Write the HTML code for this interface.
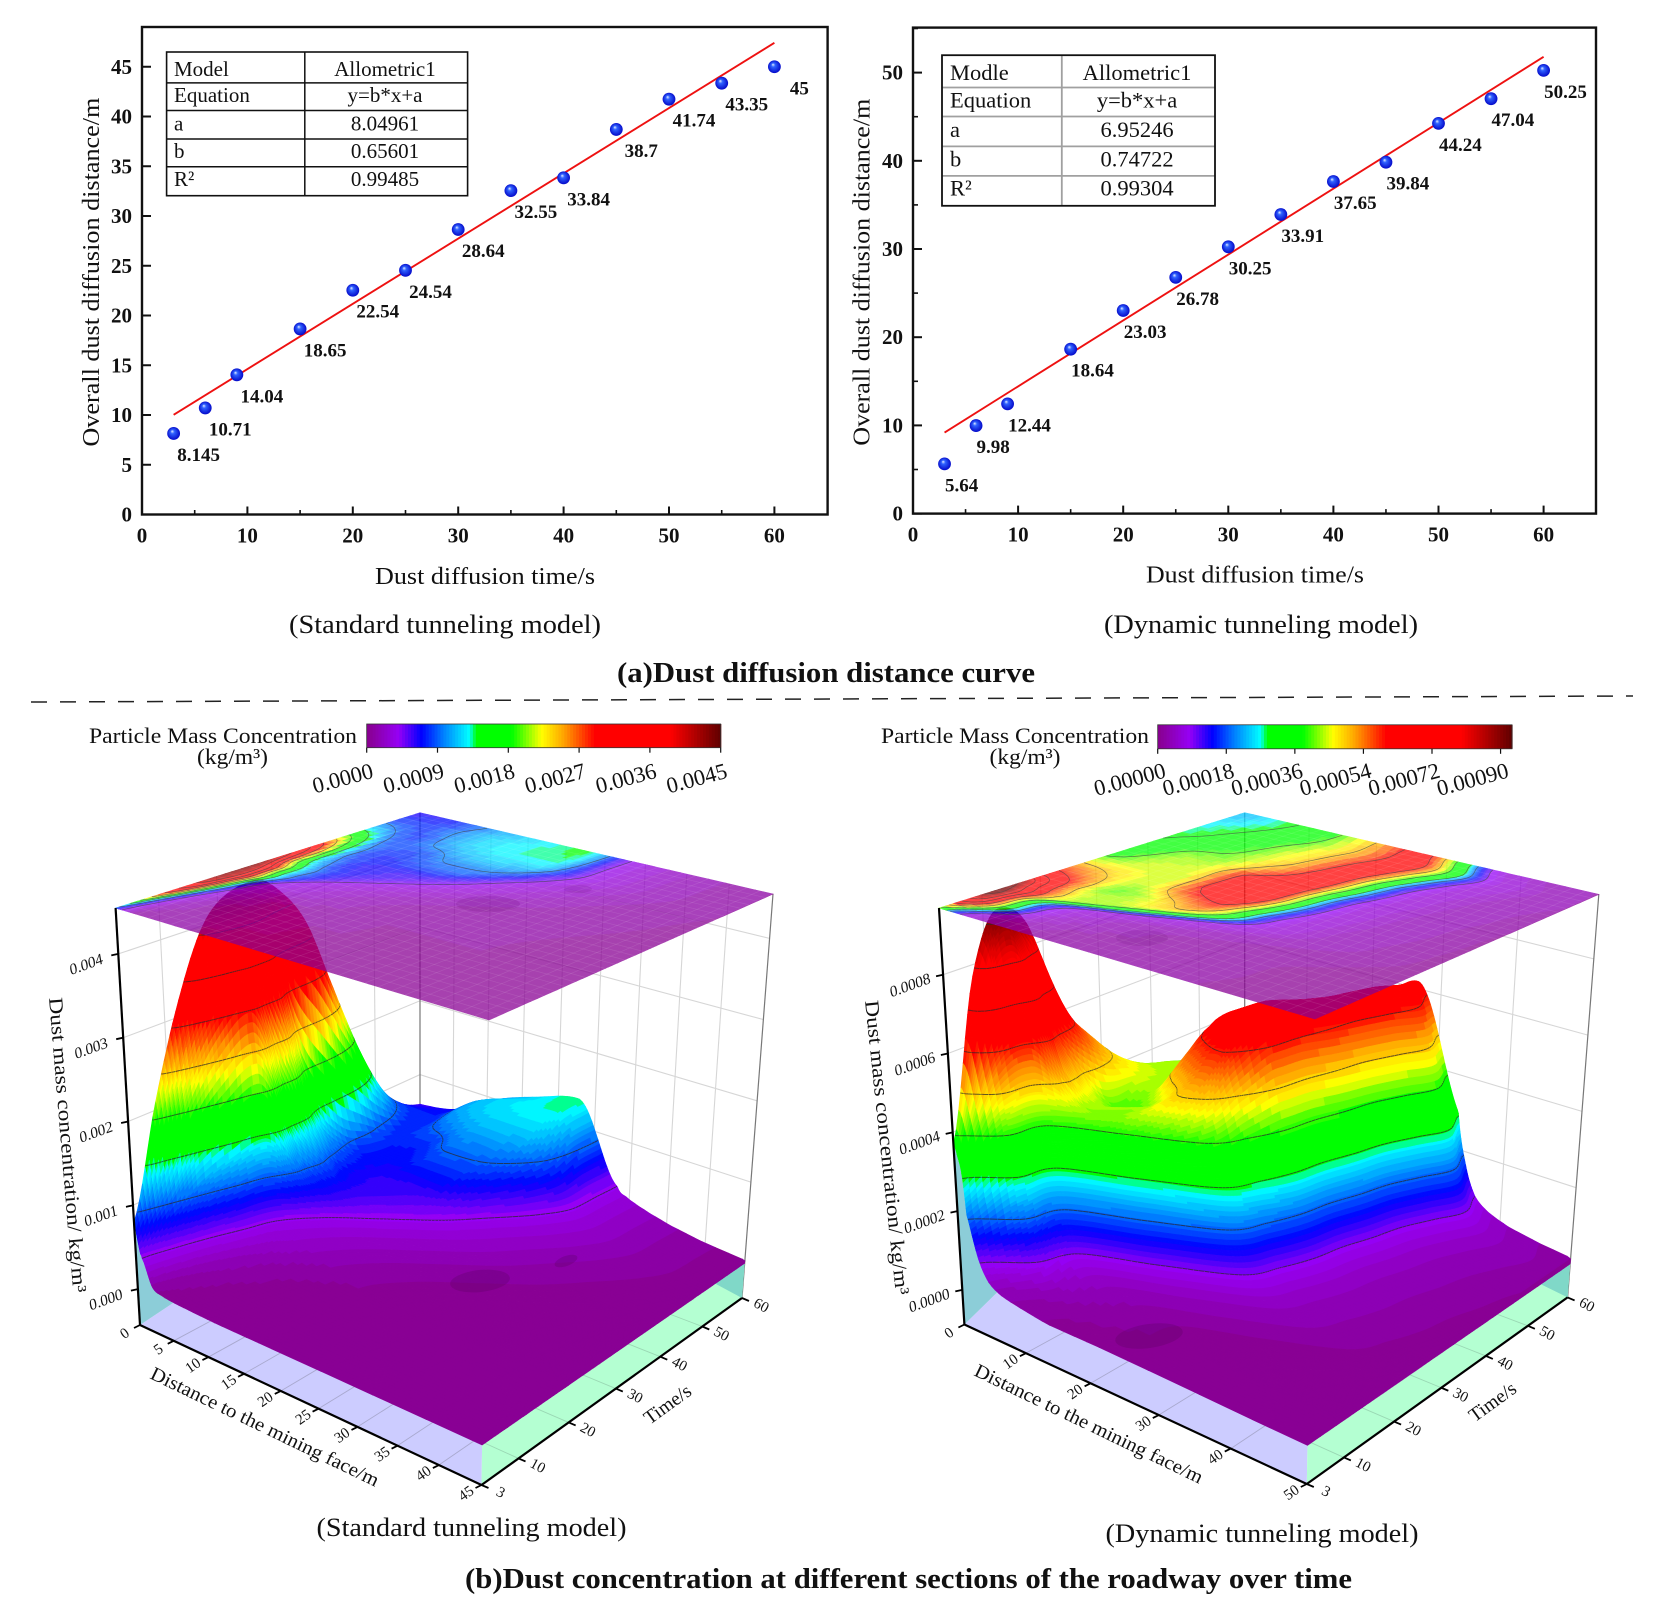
<!DOCTYPE html>
<html lang="en">
<head>
<meta charset="utf-8">
<title>Dust diffusion distance and concentration</title>
<style>
html,body{margin:0;padding:0;background:#fff;}
svg{display:block;}
text{font-family:"Liberation Serif","Noto Serif CJK SC",serif;fill:#111;}
.tb{font-size:21px;}
</style>
</head>
<body>
<svg id="fig" xmlns="http://www.w3.org/2000/svg" width="1656" height="1623" viewBox="0 0 1656 1623">
<defs>
<radialGradient id="ball" cx="50%" cy="50%" r="55%" fx="38%" fy="32%">
<stop offset="0" stop-color="#e8efff"/><stop offset=".28" stop-color="#2f62ff"/><stop offset="1" stop-color="#0000c4"/>
</radialGradient>
</defs>
<rect width="1656" height="1623" fill="#fff"/>

<g id="plotA"></g>
<g id="plotB"></g>

<g>
<rect x="166.6" y="52" width="301" height="143.7" fill="none" stroke="#111" stroke-width="1.6"/>
<path d="M304.8 52V195.7M166.6 82.9H467.6M166.6 110.5H467.6M166.6 139H467.6M166.6 166.7H467.6" stroke="#111" stroke-width="1.5" fill="none"/>
<text class="tb" x="174" y="76">Model</text><text class="tb" x="385" y="76" text-anchor="middle">Allometric1</text>
<text class="tb" x="174" y="102">Equation</text><text class="tb" x="385" y="102" text-anchor="middle">y=b*x+a</text>
<text class="tb" x="174" y="130.500">a</text><text class="tb" x="385" y="130.500" text-anchor="middle">8.04961</text>
<text class="tb" x="174" y="158.200">b</text><text class="tb" x="385" y="158.200" text-anchor="middle">0.65601</text>
<text class="tb" x="174" y="186">R²</text><text class="tb" x="385" y="186" text-anchor="middle">0.99485</text>
</g>
<g>
<path d="M1061.800 55.2V205.8M942 87.5H1215M942 116.5H1215M942 146.4H1215M942 175.9H1215" stroke="#a0a0a0" stroke-width="1.8" fill="none"/>
<rect x="942" y="55.2" width="273" height="150.6" fill="none" stroke="#111" stroke-width="1.8"/>
<text class="tb" style="font-size:22.5px" x="950" y="80">Modle</text><text class="tb" style="font-size:22.5px" x="1137" y="80" text-anchor="middle">Allometric1</text>
<text class="tb" style="font-size:22.5px" x="950" y="107.500">Equation</text><text class="tb" style="font-size:22.5px" x="1137" y="107.500" text-anchor="middle">y=b*x+a</text>
<text class="tb" style="font-size:22.5px" x="950" y="137">a</text><text class="tb" style="font-size:22.5px" x="1137" y="137" text-anchor="middle">6.95246</text>
<text class="tb" style="font-size:22.5px" x="950" y="166.500">b</text><text class="tb" style="font-size:22.5px" x="1137" y="166.500" text-anchor="middle">0.74722</text>
<text class="tb" style="font-size:22.5px" x="950" y="195.500">R²</text><text class="tb" style="font-size:22.5px" x="1137" y="195.500" text-anchor="middle">0.99304</text>
</g>

<text x="375" y="584" font-size="24" textLength="220" lengthAdjust="spacingAndGlyphs">Dust diffusion time/s</text>
<text x="1146" y="582.500" font-size="24" textLength="218" lengthAdjust="spacingAndGlyphs">Dust diffusion time/s</text>
<text transform="translate(99,446.600) rotate(-90)" font-size="24" textLength="349" lengthAdjust="spacingAndGlyphs">Overall dust diffusion distance/m</text>
<text transform="translate(869.500,445.700) rotate(-90)" font-size="24" textLength="347" lengthAdjust="spacingAndGlyphs">Overall dust diffusion distance/m</text>
<text x="289" y="633" font-size="26" textLength="312" lengthAdjust="spacingAndGlyphs">(Standard tunneling model)</text>
<text x="1104" y="633" font-size="26" textLength="314" lengthAdjust="spacingAndGlyphs">(Dynamic tunneling model)</text>
<text x="617" y="682" font-size="28" font-weight="bold" textLength="418" lengthAdjust="spacingAndGlyphs">(a)Dust diffusion distance curve</text>
<line x1="31" y1="702" x2="1633" y2="696" stroke="#222" stroke-width="1.5" stroke-dasharray="16 13"/>

<text x="89" y="743" font-size="22" textLength="268" lengthAdjust="spacingAndGlyphs">Particle Mass Concentration</text>
<text x="197" y="764" font-size="22" textLength="71" lengthAdjust="spacingAndGlyphs">(kg/m³)</text>
<text x="881" y="743" font-size="22" textLength="268" lengthAdjust="spacingAndGlyphs">Particle Mass Concentration</text>
<text x="989.500" y="764" font-size="22" textLength="71" lengthAdjust="spacingAndGlyphs">(kg/m³)</text>

<g id="surfA"></g>
<g id="surfB"></g>

<g fill="#5a0060" fill-opacity=".28">
<ellipse cx="480" cy="1281" rx="30" ry="11" transform="rotate(-6 480 1281)"/>
<ellipse cx="566" cy="1261" rx="12" ry="5" transform="rotate(-20 566 1261)"/>
<ellipse cx="488" cy="904" rx="32" ry="8" fill-opacity=".14"/>
<ellipse cx="578" cy="889" rx="14" ry="4" fill-opacity=".12"/>
<ellipse cx="1149" cy="1336" rx="34" ry="12" transform="rotate(-8 1149 1336)"/>
<ellipse cx="1142" cy="938" rx="26" ry="8" fill-opacity=".12"/>
</g>

<text transform="translate(49,998) rotate(85.300)" font-size="20" textLength="296" lengthAdjust="spacingAndGlyphs">Dust mass concentration/  kg/m³</text>
<text transform="translate(865,1001) rotate(84)" font-size="20" textLength="296" lengthAdjust="spacingAndGlyphs">Dust mass concentration/  kg/m³</text>
<text transform="translate(149,1378) rotate(25.700)" font-size="19.500" textLength="251" lengthAdjust="spacingAndGlyphs">Distance to the mining face/m</text>
<text transform="translate(973,1375) rotate(25.700)" font-size="19.500" textLength="251" lengthAdjust="spacingAndGlyphs">Distance to the mining face/m</text>
<text transform="translate(668,1405) rotate(-36)" font-size="19.500" text-anchor="middle" dominant-baseline="central">Time/s</text>
<text transform="translate(1493,1402.500) rotate(-36)" font-size="19.500" text-anchor="middle" dominant-baseline="central">Time/s</text>
<text x="316.500" y="1536" font-size="26" textLength="310" lengthAdjust="spacingAndGlyphs">(Standard tunneling model)</text>
<text x="1105.500" y="1542" font-size="26" textLength="313" lengthAdjust="spacingAndGlyphs">(Dynamic tunneling model)</text>
<text x="465" y="1588" font-size="28" font-weight="bold" textLength="887" lengthAdjust="spacingAndGlyphs">(b)Dust concentration at different sections of the roadway over time</text>
</svg>

<script>
/* ---------- scatter data ---------- */
const diffusionTimes = [3, 6, 9, 15, 20, 25, 30, 35, 40, 45, 50, 55, 60];
const standardDistances = [8.145, 10.71, 14.04, 18.65, 22.54, 24.54, 28.64, 32.55, 33.84, 38.7, 41.74, 43.35, 45];
const dynamicDistances = [5.64, 9.98, 12.44, 18.64, 23.03, 26.78, 30.25, 33.91, 37.65, 39.84, 44.24, 47.04, 50.25];
const standardFit = [8.04961, 0.65601];
const dynamicFit = [6.95246, 0.74722];
const scatterXTicks = [0, 10, 20, 30, 40, 50, 60];
const standardYTicks = [0, 5, 10, 15, 20, 25, 30, 35, 40, 45];
const dynamicYTicks = [0, 10, 20, 30, 40, 50];

/* ---------- surface data ----------
   One row per time step from 3 s to 60 s.
   front   = diffusion-front position (fraction of the distance axis) at that time.
   profile = concentration (1e-4 kg/m3) at 0, .2, .4, .6, .8, 1 of the way to the front,
             then at .03, .06, .1, .16, .25, .4 of the axis beyond the front. */
const standardFront = [.02, .04, .065, .095, .125, .2, .31, .42, .5, .574, .62, .625, .63];
const standardProfile = [
[8,7.2,6.2,5.2,4.5,4,1,.5,.3,.2,.1,.1],
[21,18,13,9,6,4,1.5,.9,.5,.3,.2,.1],
[32,29,22,14,7.5,4,2,1.3,.8,.5,.3,.1],
[40,37,28,17,8.5,4,2.4,1.8,1.2,.7,.4,.2],
[43,40,31,19,9,4,3,2.5,2,1.4,.8,.3],
[43.5,35,19,10.5,7,4,3,2.5,2,1.4,.8,.3],
[41,19,9.8,6.8,5.4,4,3,2.5,2,1.4,.8,.3],
[36,12.5,7,6,5.5,4,3,2.5,2,1.4,.8,.3],
[27,10,7,8,8,4,3,2.5,2,1.4,.8,.3],
[18,8,8,10,9.5,4,3,2.5,2,1.4,.8,.3],
[11,7.5,10.5,12,12,4,3,2.5,2,1.4,.8,.3],
[7.5,7.5,11,12.5,13.2,4,3,2.5,2,1.4,.8,.3],
[6,7,10,12,13.5,4,3,2.5,2,1.4,.8,.3]
];
const dynamicFront = [.03, .11, .135, .32, .49, .535, .565, .58, .605, .625, .66, .695, .665];
const dynamicProfile = [
[3.7,3.6,3.4,3.2,2.8,2,1,.5,.3,.2,.1,.1],
[7.7,7.3,6.3,5.2,4,3,1.4,.7,.4,.25,.15,.1],
[9.2,8.6,7,5.5,4,3,1.6,.9,.6,.4,.25,.1],
[8.6,6.5,5,4.2,4.2,3,1.6,.9,.6,.4,.25,.1],
[6.3,5.4,4,4.4,5,3,1.6,.9,.6,.4,.25,.1],
[5.2,4.8,4.3,5.5,6,3,1.6,.9,.6,.4,.25,.1],
[4,4.4,4.3,6.2,6.7,3,1.6,.9,.6,.4,.25,.1],
[3.4,4.2,4.4,6.2,6.7,3,1.6,.9,.6,.4,.25,.1],
[3,3.9,4.2,5.4,6.6,3,1.6,.9,.6,.4,.25,.1],
[2.8,3.3,4.1,5,6.5,3,1.6,.9,.6,.4,.25,.1],
[2.6,3.1,4,5,6.5,3,1.6,.9,.6,.4,.25,.1],
[2.4,2.9,3.8,5,6.4,3,1.6,.9,.6,.4,.25,.1],
[2.2,2.7,3.6,4.9,6.2,3,1.6,.9,.6,.4,.25,.1]
];
const beyondFrontOffsets = [0, .03, .06, .1, .16, .25, .4];
const standardContours = [4, 9, 14, 19, 24, 29, 34, 39, 44];
const dynamicContours = [.9, 1.9, 2.9, 3.9, 4.9, 5.9, 6.9, 7.9, 8.9];
const standardZTicks = ['0.000', '0.001', '0.002', '0.003', '0.004'];
const dynamicZTicks = ['0.0000', '0.0002', '0.0004', '0.0006', '0.0008'];
const standardDistanceTicks = [0, 5, 10, 15, 20, 25, 30, 35, 40, 45];
const dynamicDistanceTicks = [0, 10, 20, 30, 40, 50];
const surfaceTimeTicks = [3, 10, 20, 30, 40, 50, 60];
const standardColorbarTicks = ['0.0000', '0.0009', '0.0018', '0.0027', '0.0036', '0.0045'];
const dynamicColorbarTicks = ['0.00000', '0.00018', '0.00036', '0.00054', '0.00072', '0.00090'];

const NS = 'http://www.w3.org/2000/svg';
function mk(parent, tag, attrs, txt) {
  const e = document.createElementNS(NS, tag);
  for (const k in attrs) e.setAttribute(k, attrs[k]);
  if (txt !== undefined) e.textContent = txt;
  parent.appendChild(e);
  return e;
}

/* ---------- scatter charts ---------- */
function drawScatter(root, cfg) {
  const sx = x => cfg.x0 + (x - 0) * cfg.kx;
  const sy = y => cfg.y0 - y * cfg.ky;
  const frame = mk(root, 'rect', {x: cfg.x0, y: cfg.top, width: cfg.right - cfg.x0, height: cfg.y0 - cfg.top, fill: 'none', stroke: '#111', 'stroke-width': 2.4});
  
  
  scatterXTicks.forEach(t => {
    const tick = mk(root, 'line', {x1: sx(t), x2: sx(t), y1: cfg.y0, y2: cfg.y0 - 8, stroke: '#111', 'stroke-width': 2});
    
    
    if (t < 60) {
      const minor = mk(root, 'line', {x1: sx(t + 5), x2: sx(t + 5), y1: cfg.y0, y2: cfg.y0 - 4.5, stroke: '#111', 'stroke-width': 1.6});
      
      
    }
    const lab = mk(root, 'text', {x: sx(t), y: cfg.y0 + 28, 'text-anchor': 'middle', 'font-size': 21, 'font-weight': 'bold'}, String(t));
    
    
  });
  cfg.yTicks.forEach(t => {
    const tick = mk(root, 'line', {x1: cfg.x0, x2: cfg.x0 + 9, y1: sy(t), y2: sy(t), stroke: '#111', 'stroke-width': 2});
    
    
    if (cfg.yMinor) {
      const mid = t + cfg.yMinor;
      const minor = mk(root, 'line', {x1: cfg.x0, x2: cfg.x0 + 5, y1: sy(mid), y2: sy(mid), stroke: '#111', 'stroke-width': 1.6});
      
      
    }
    const lab = mk(root, 'text', {x: cfg.x0 - 10, y: sy(t) + 7, 'text-anchor': 'end', 'font-size': 21, 'font-weight': 'bold'}, String(t));
    
    
  });
  const n = diffusionTimes.length - 1;
  const fitLine = mk(root, 'line', {
    x1: sx(diffusionTimes[0]), y1: sy(cfg.fit[0] + cfg.fit[1] * diffusionTimes[0]),
    x2: sx(diffusionTimes[n]), y2: sy(cfg.fit[0] + cfg.fit[1] * diffusionTimes[n]),
    stroke: '#ee1111', 'stroke-width': 1.9});
  
  
  diffusionTimes.forEach((t, i) => {
    const v = cfg.values[i];
    const dot = mk(root, 'circle', {cx: sx(t), cy: sy(v), r: 6.4, fill: 'url(#ball)'});
    
    
    const lab = mk(root, 'text', {x: sx(t) + cfg.labelDx, y: sy(v) + 27.5, 'text-anchor': cfg.labelAnchor, 'font-size': 19, 'font-weight': 'bold'}, String(v));
    
    
  });
}
drawScatter(document.getElementById('plotA'), {
  x0: 142, right: 827.6, kx: 10.54, y0: 514.5, top: 27, ky: 9.95,
  yTicks: standardYTicks, yMinor: 0, fit: standardFit, values: standardDistances, labelDx: 25, labelAnchor: 'middle'
});
drawScatter(document.getElementById('plotB'), {
  x0: 913, right: 1596, kx: 10.51, y0: 513.6, top: 27.6, ky: 8.82,
  yTicks: dynamicYTicks, yMinor: 5, fit: dynamicFit, values: dynamicDistances, labelDx: .5, labelAnchor: 'start'
});

/* ---------- colour map ---------- */
const cmapStops = [[0,136,0,140],[.09,150,0,245],[.155,0,0,255],[.217,0,128,255],[.29,0,255,255],[.31,0,255,0],[.41,0,255,0],[.494,255,255,0],[.555,255,165,0],[.645,255,0,0],[.857,255,0,0],[1,96,0,0]];
function cmap(t, levels) {
  t = Math.max(0, Math.min(1, t));
  if (levels) t = (Math.floor(t * levels) + .5) / levels;
  for (let i = 1; i < cmapStops.length; i++) {
    const b = cmapStops[i], a = cmapStops[i - 1];
    if (t <= b[0]) {
      const f = (t - a[0]) / (b[0] - a[0]);
      return 'rgb(' + Math.round(a[1] + (b[1] - a[1]) * f) + ',' + Math.round(a[2] + (b[2] - a[2]) * f) + ',' + Math.round(a[3] + (b[3] - a[3]) * f) + ')';
    }
  }
  return 'rgb(96,0,0)';
}

/* ---------- projection helpers ---------- */
function quadMap(q) {
  const [p0, p1, p2, p3] = q;
  const dx1 = p1[0] - p2[0], dx2 = p3[0] - p2[0], sx = p0[0] - p1[0] + p2[0] - p3[0];
  const dy1 = p1[1] - p2[1], dy2 = p3[1] - p2[1], sy = p0[1] - p1[1] + p2[1] - p3[1];
  const den = dx1 * dy2 - dx2 * dy1;
  const g = (sx * dy2 - dx2 * sy) / den, h = (dx1 * sy - sx * dy1) / den;
  const a = p1[0] - p0[0] + g * p1[0], b = p3[0] - p0[0] + h * p3[0], c = p0[0];
  const d = p1[1] - p0[1] + g * p1[1], e = p3[1] - p0[1] + h * p3[1], f = p0[1];
  return (u, v) => {
    const w = g * u + h * v + 1;
    return [(a * u + b * v + c) / w, (d * u + e * v + f) / w];
  };
}
/* shape-preserving cubic through the read values: no overshoot between them */
function hermite(p0, p1, p2, p3, t) {
  const d1 = p1 - p0, d2 = p2 - p1, d3 = p3 - p2;
  let m1 = (p2 - p0) / 2, m2 = (p3 - p1) / 2;
  if (d1 === 0) m1 = d2 * .5;
  else if (d1 * d2 <= 0) m1 = 0;
  else if (Math.abs(m1) > 3 * Math.min(Math.abs(d1), Math.abs(d2))) m1 = Math.sign(m1) * 3 * Math.min(Math.abs(d1), Math.abs(d2));
  if (d3 === 0) m2 = d2 * .5;
  else if (d2 * d3 <= 0) m2 = 0;
  else if (Math.abs(m2) > 3 * Math.min(Math.abs(d2), Math.abs(d3))) m2 = Math.sign(m2) * 3 * Math.min(Math.abs(d2), Math.abs(d3));
  const t2 = t * t, t3 = t2 * t;
  return (2 * t3 - 3 * t2 + 1) * p1 + (t3 - 2 * t2 + t) * m1 + (-2 * t3 + 3 * t2) * p2 + (t3 - t2) * m2;
}
function fmt(p) { return p[0].toFixed(1) + ',' + p[1].toFixed(1); }

/* Field sampled in coordinates that follow the diffusion front, so the front stays smooth. */
function makeField(front, profile) {
  const R = profile.length;
  const rows = profile.map(r => r.concat([0]));
  const C = rows[0].length;
  const at = (r, c) => rows[Math.max(0, Math.min(R - 1, r))][Math.max(0, Math.min(C - 1, c))];
  const F = v => {
    const fr = Math.min(R - 1.0001, v * (R - 1)), r = Math.floor(fr), t = fr - r;
    const g = k => front[Math.max(0, Math.min(R - 1, k))];
    return Math.max(.006, Math.min(.99, hermite(g(r - 1), g(r), g(r + 1), g(r + 2), t)));
  };
  const uFromIdx = (idx, v) => {
    const f = F(v);
    if (idx <= 5) return f * idx / 5;
    if (idx <= 11) {
      const k = Math.min(5, Math.floor(idx - 5));
      const a = beyondFrontOffsets[k], b = beyondFrontOffsets[k + 1];
      return Math.min(1, f + a + (b - a) * (idx - 5 - k));
    }
    const s = Math.min(1, f + beyondFrontOffsets[6]);
    return s + (1 - s) * (idx - 11);
  };
  const idxFromU = (u, v) => {
    const f = F(v);
    if (u <= f) return 5 * u / f;
    const d = u - f;
    for (let k = 0; k < 6; k++) {
      if (d <= beyondFrontOffsets[k + 1]) return 5 + k + (d - beyondFrontOffsets[k]) / (beyondFrontOffsets[k + 1] - beyondFrontOffsets[k]);
    }
    return 11 + (d - beyondFrontOffsets[6]) / Math.max(.001, 1 - f - beyondFrontOffsets[6]);
  };
  const zIdx = (idx, v) => {
    const fc = Math.min(C - 1.0001, idx), fr = Math.min(R - 1.0001, v * (R - 1));
    const c = Math.floor(fc), r = Math.floor(fr), tc = fc - c, tr = fr - r;
    const vals = [];
    for (let k = -1; k <= 2; k++) vals.push(hermite(at(r + k, c - 1), at(r + k, c), at(r + k, c + 1), at(r + k, c + 2), tc));
    return Math.max(0, hermite(vals[0], vals[1], vals[2], vals[3], tr));
  };
  return {uFromIdx, zIdx, zUV: (u, v) => zIdx(idxFromU(u, v), v)};
}

/* ---------- 3D surface ---------- */
function drawSurface(root, cfg) {
  const floorMap = quadMap(cfg.floor), topMap = quadMap(cfg.top);
  const wOf = z => cfg.w0 + cfg.wk * z;
  const P = (u, v, w) => {
    const a = floorMap(u, v), b = topMap(u, v);
    return [a[0] + (b[0] - a[0]) * w, a[1] + (b[1] - a[1]) * w];
  };
  const uOf = d => d / cfg.distMax;
  const vOf = t => (t - 3) / 57;
  const field = makeField(cfg.front, cfg.profile);
  const zS = field.zUV;

  /* back-wall grid */
  const grid = mk(root, 'g', {fill: 'none', stroke: '#d6d6d6', 'stroke-width': 1.1});
  
  
  cfg.zTicks.forEach(s => {
    const w = wOf(parseFloat(s) * 1e4);
    const l = mk(grid, 'polyline', {points: fmt(P(0, 0, w)) + ' ' + fmt(P(0, 1, w)) + ' ' + fmt(P(1, 1, w))});
    
    
  });
  surfaceTimeTicks.slice(1, -1).forEach(t => {
    const a = P(0, vOf(t), 0), b = P(0, vOf(t), 1);
    const l = mk(grid, 'line', {x1: a[0], y1: a[1], x2: b[0], y2: b[1]});
    
    
  });
  cfg.distTicks.slice(1, -1).forEach(d => {
    const a = P(uOf(d), 1, 0), b = P(uOf(d), 1, 1);
    const l = mk(grid, 'line', {x1: a[0], y1: a[1], x2: b[0], y2: b[1]});
    
    
  });
  const backEdge = mk(root, 'line', {x1: P(0, 1, 0)[0], y1: P(0, 1, 0)[1], x2: P(0, 1, 1)[0], y2: P(0, 1, 1)[1], stroke: '#777', 'stroke-width': 1.2});
  
  
  const rightEdge = mk(root, 'line', {x1: P(1, 1, 0)[0], y1: P(1, 1, 0)[1], x2: P(1, 1, 1)[0], y2: P(1, 1, 1)[1], stroke: '#777', 'stroke-width': 1.2});
  
  

  /* side walls */
  const w0 = wOf(0);
  let lav = fmt(P(0, 0, 0)) + ' ' + fmt(P(1, 0, 0));
  for (let i = 120; i >= 14; i--) lav += ' ' + fmt(P(i / 120, 0, wOf(zS(i / 120, 0))));
  const lavender = mk(root, 'polygon', {points: lav, fill: '#ccccff'});
  
  
  let gr = fmt(P(1, 0, 0)) + ' ' + fmt(P(1, 1, 0));
  for (let i = 60; i >= 0; i--) gr += ' ' + fmt(P(1, i / 60, wOf(zS(1, i / 60))));
  const green = mk(root, 'polygon', {points: gr, fill: '#b4ffd2'});
  
  
  let te = fmt(P(0, 0, 0));
  for (let i = 0; i <= 14; i++) te += ' ' + fmt(P(i / 120, 0, wOf(zS(i / 120, 0))));
  const teal = mk(root, 'polygon', {points: te, fill: '#8ccdd8'});
  
  
  const teal2 = mk(root, 'polygon', {points: fmt(P(1, 1, 0)) + ' ' + fmt(P(1, 1, w0)) + ' ' + fmt(P(1, .87, w0)), fill: '#80d8c8'});
  
  
  cfg.distTicks.slice(1, -1).forEach(d => {
    const a = P(uOf(d), 0, 0), b = P(uOf(d), .17, 0);
    const l = mk(root, 'line', {x1: a[0], y1: a[1], x2: b[0], y2: b[1], stroke: '#a9a9cf', 'stroke-width': .9});
    
    
  });
  surfaceTimeTicks.slice(1, -1).forEach(t => {
    const a = P(1, vOf(t), 0), b = P(.91, vOf(t), 0);
    const l = mk(root, 'line', {x1: a[0], y1: a[1], x2: b[0], y2: b[1], stroke: '#9ad8b4', 'stroke-width': .9});
    
    
  });

  /* mesh that follows the front; finer where the surface is steepest or the front moves fastest */
  const idxList = [];
  for (let k = 0; k < 35; k++) idxList.push(k / 10);
  for (let k = 0; k < 85; k++) idxList.push(3.5 + k * .04);
  for (let k = 0; k < 16; k++) idxList.push(7 + k / 4);
  for (let k = 0; k <= 4; k++) idxList.push(11 + k / 4);
  const vList = [];
  for (let v = 0; v < cfg.fineFrom; v += 1 / 96) vList.push(v);
  for (let v = cfg.fineFrom; v < cfg.fineTo; v += 1 / 192) vList.push(v);
  for (let v = cfg.fineTo; v < 1 - 1e-6; v += 1 / 96) vList.push(v);
  vList.push(1);
  const nu = idxList.length - 1, nv = vList.length - 1;
  const Z = [], U = [];
  for (let j = 0; j <= nv; j++) {
    const v = vList[j];
    Z.push([]);
    U.push([]);
    for (let i = 0; i <= nu; i++) {
      Z[j].push(field.zIdx(idxList[i], v));
      U[j].push(field.uFromIdx(idxList[i], v));
    }
  }
  const crossings = (i, j, L) => {
    const cs = [[i, j], [i + 1, j], [i + 1, j + 1], [i, j + 1]];
    const pts = [];
    for (let k = 0; k < 4; k++) {
      const A = cs[k], B = cs[(k + 1) % 4];
      const za = Z[A[1]][A[0]], zb = Z[B[1]][B[0]];
      if ((za < L) !== (zb < L)) {
        const f = (L - za) / (zb - za);
        const ua = U[A[1]][A[0]], ub = U[B[1]][B[0]];
        pts.push([ua + (ub - ua) * f, vList[A[1]] + (vList[B[1]] - vList[A[1]]) * f]);
      }
    }
    return pts;
  };

  /* surface, far to near */
  const surf = mk(root, 'g', {});
  
  
  for (let j = nv - 1; j >= 0; j--) {
    const v0 = vList[j], v1 = vList[j + 1];
    for (let i = 0; i < nu; i++) {
      const a = Z[j][i], b = Z[j][i + 1], c = Z[j + 1][i + 1], d = Z[j + 1][i];
      const col = cmap(((a + b + c + d) / 4) / cfg.max, 72);
      const cell = mk(surf, 'polygon', {
        points: fmt(P(U[j][i], v0, wOf(a))) + ' ' + fmt(P(U[j][i + 1], v0, wOf(b))) + ' ' + fmt(P(U[j + 1][i + 1], v1, wOf(c))) + ' ' + fmt(P(U[j + 1][i], v1, wOf(d))),
        fill: col, stroke: col, 'stroke-width': .6});
      
      
    }
    for (let i = 0; i < nu; i++) {
      cfg.levels.forEach(L => {
        const pts = crossings(i, j, L);
        if (pts.length >= 2) {
          const p = P(pts[0][0], pts[0][1], wOf(L)), q = P(pts[1][0], pts[1][1], wOf(L));
          const seg = mk(surf, 'line', {x1: p[0], y1: p[1], x2: q[0], y2: q[1], stroke: '#2a2a2a', 'stroke-width': 1, 'stroke-opacity': .75});
          
          
        }
      });
    }
  }

  /* translucent projected map on the top plane */
  const plane = mk(root, 'g', {opacity: .74});
  
  
  for (let j = 0; j < nv; j += 2) {
    const n = Math.min(nv, j + 2);
    const v0 = vList[j], v1 = vList[n];
    for (let i = 0; i < nu; i += 2) {
      const e = Math.min(nu, i + 2);
      const z = (Z[j][i] + Z[j][e] + Z[n][e] + Z[n][i]) / 4;
      const col = cmap(z / cfg.max + .01, 72);
      const cell = mk(plane, 'polygon', {
        points: fmt(P(U[j][i], v0, 1)) + ' ' + fmt(P(U[j][e], v0, 1)) + ' ' + fmt(P(U[n][e], v1, 1)) + ' ' + fmt(P(U[n][i], v1, 1)),
        fill: col, stroke: col, 'stroke-width': .6});
      
      
    }
  }
  const mesh = mk(root, 'g', {stroke: '#fff', 'stroke-width': .7, 'stroke-opacity': .1});
  
  
  for (let k = 1; k < 30; k++) {
    const a = P(k / 30, 0, 1), b = P(k / 30, 1, 1), c = P(0, k / 30, 1), d = P(1, k / 30, 1);
    const l1 = mk(mesh, 'line', {x1: a[0], y1: a[1], x2: b[0], y2: b[1]});
    
    
    const l2 = mk(mesh, 'line', {x1: c[0], y1: c[1], x2: d[0], y2: d[1]});
    
    
  }
  const planeLines = mk(root, 'g', {stroke: '#444', 'stroke-width': .7, 'stroke-opacity': .7});
  
  
  for (let j = 0; j < nv; j++) {
    for (let i = 0; i < nu; i++) {
      cfg.levels.forEach(L => {
        const pts = crossings(i, j, L);
        if (pts.length >= 2) {
          const p = P(pts[0][0], pts[0][1], 1), q = P(pts[1][0], pts[1][1], 1);
          const seg = mk(planeLines, 'line', {x1: p[0], y1: p[1], x2: q[0], y2: q[1]});
          
          
        }
      });
    }
  }

  /* axes */
  const zAxis = mk(root, 'line', {x1: P(0, 0, 0)[0], y1: P(0, 0, 0)[1], x2: P(0, 0, 1)[0], y2: P(0, 0, 1)[1], stroke: '#000', 'stroke-width': 2.2});
  
  
  const dAxis = mk(root, 'line', {x1: P(0, 0, 0)[0], y1: P(0, 0, 0)[1], x2: P(1, 0, 0)[0], y2: P(1, 0, 0)[1], stroke: '#000', 'stroke-width': 2.2});
  
  
  const tAxis = mk(root, 'line', {x1: P(1, 0, 0)[0], y1: P(1, 0, 0)[1], x2: P(1, 1, 0)[0], y2: P(1, 1, 0)[1], stroke: '#000', 'stroke-width': 2.2});
  
  

  cfg.zTicks.forEach(s => {
    const p = P(0, 0, wOf(parseFloat(s) * 1e4));
    const tk = mk(root, 'line', {x1: p[0], y1: p[1], x2: p[0] - 7, y2: p[1] + 1.5, stroke: '#000', 'stroke-width': 1.8});
    
    
    const x = p[0] - cfg.zLabelDx, y = p[1] + 11;
    const lab = mk(root, 'text', {x: x, y: y, 'text-anchor': 'middle', 'dominant-baseline': 'central', 'font-size': 15.5, 'font-style': 'italic', transform: 'rotate(-20 ' + x + ' ' + y + ')'}, s);
    
    
  });
  cfg.distTicks.forEach(d => {
    const p = P(uOf(d), 0, 0);
    const tk = mk(root, 'line', {x1: p[0], y1: p[1], x2: p[0] - 6, y2: p[1] + 3, stroke: '#000', 'stroke-width': 1.8});
    
    
    const x = p[0] - 15, y = p[1] + 9;
    const lab = mk(root, 'text', {x: x, y: y, 'text-anchor': 'middle', 'dominant-baseline': 'central', 'font-size': 15, transform: 'rotate(-35 ' + x + ' ' + y + ')'}, String(d));
    
    
  });
  surfaceTimeTicks.forEach(t => {
    const p = P(1, vOf(t), 0);
    const tk = mk(root, 'line', {x1: p[0], y1: p[1], x2: p[0] + 7, y2: p[1] + 3, stroke: '#000', 'stroke-width': 1.8});
    
    
    const x = p[0] + 19, y = p[1] + 8;
    const lab = mk(root, 'text', {x: x, y: y, 'text-anchor': 'middle', 'dominant-baseline': 'central', 'font-size': 15, transform: 'rotate(28 ' + x + ' ' + y + ')'}, String(t));
    
    
  });

  /* colour bar */
  const cb = cfg.bar;
  const barG = mk(root, 'g', {});
  
  
  for (let i = 0; i < 120; i++) {
    const col = cmap((i + .5) / 120);
    const sw = mk(barG, 'rect', {x: cb.x + cb.w * i / 120, y: cb.y, width: cb.w / 120 + .6, height: cb.h, fill: col});
    
    
  }
  const outline = mk(barG, 'rect', {x: cb.x, y: cb.y, width: cb.w, height: cb.h, fill: 'none', stroke: '#333', 'stroke-width': .8});
  
  
  cfg.barTicks.forEach(s => {
    const x = cb.x + parseFloat(s) * 1e4 / cfg.max * cb.w;
    const tk = mk(barG, 'line', {x1: x, x2: x, y1: cb.y + cb.h, y2: cb.y + cb.h + 5, stroke: '#111', 'stroke-width': 1.2});
    
    
    const lx = x - cfg.barLabelDx, ly = cb.y + cb.h + 30.5;
    const lab = mk(barG, 'text', {x: lx, y: ly, 'text-anchor': 'middle', 'dominant-baseline': 'central', 'font-size': 22.5, transform: 'rotate(-15 ' + lx + ' ' + ly + ')'}, s);
    
    
  });
}

drawSurface(document.getElementById('surfA'), {
  floor: [[140,1325],[481.5,1485],[742,1298],[420,1180]],
  top: [[115.6,908],[489,1020],[773,894],[420,812.7]],
  w0: .086, wk: .0201, max: 45, distMax: 45, fineFrom: .3, fineTo: .62,
  front: standardFront, profile: standardProfile, levels: standardContours, zTicks: standardZTicks,
  distTicks: standardDistanceTicks, zLabelDx: 32,
  bar: {x: 366.7, y: 724, w: 354, h: 23.7}, barTicks: standardColorbarTicks, barLabelDx: 24
});
drawSurface(document.getElementById('surfB'), {
  floor: [[964.4,1324.5],[1306.8,1484],[1567.6,1297.4],[1244.7,1180]],
  top: [[939,908],[1315,1019],[1598.8,894.3],[1244.7,812.7]],
  w0: .083, wk: .0946, max: 9.3, distMax: 50, fineFrom: .12, fineTo: .42,
  front: dynamicFront, profile: dynamicProfile, levels: dynamicContours, zTicks: dynamicZTicks,
  distTicks: dynamicDistanceTicks, zLabelDx: 33,
  bar: {x: 1157.7, y: 724.8, w: 354.3, h: 24}, barTicks: dynamicColorbarTicks, barLabelDx: 28
});
</script>
</body>
</html>
